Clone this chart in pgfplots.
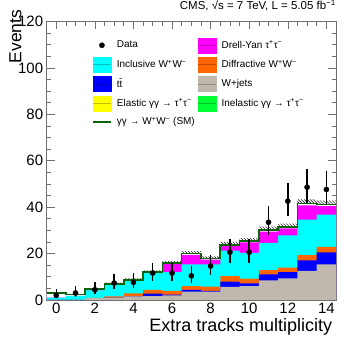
\documentclass[border=0pt]{standalone}
\usepackage{fontspec}
\setmainfont{Liberation Sans}
\usepackage{pgfplots}
\pgfplotsset{compat=1.18}
\usepackage{pgfplotstable}
\usetikzlibrary{patterns}

\definecolor{wjets}{HTML}{C1B8AD}
\definecolor{ttbar}{HTML}{0000FF}
\definecolor{diffww}{HTML}{FF6600}
\definecolor{inclww}{HTML}{00FFFF}
\definecolor{dytt}{HTML}{FF00FF}
\definecolor{eltt}{HTML}{FFFF00}
\definecolor{inelt}{HTML}{00FF33}
\definecolor{sigww}{HTML}{0B650B}
\definecolor{framec}{HTML}{707070}

% cumulative stack tops, one row per bin (left edge), last row closes bin 14
\pgfplotstableread{
x     g     b     o     c     m     t     h
-0.5  0     0     0     1.0   1.0   3.0   3.3
0.5   0     0     0     1.8   1.8   2.3   2.6
1.5   0.8   0.8   0.9   4.1   4.1   4.6   5.0
2.5   1.0   1.0   1.6   6.4   6.5   7.0   7.5
3.5   1.5   1.5   2.8   8.2   8.3   8.7   9.3
4.5   1.7   2.7   4.3   11.6  11.7  12.0  12.7
5.5   2.0   2.3   3.9   12.0  15.5  16.0  16.8
6.5   3.6   4.3   6.0   15.3  19.4  20.0  21.0
7.5   3.6   3.9   5.7   15.3  17.4  17.9  18.8
8.5   5.6   7.9   10.3  21.3  23.2  23.8  25.0
9.5   6.0   7.2   9.2   20.3  24.8  25.4  26.6
10.5  8.4   11.0  12.9  24.6  29.5  30.2  31.6
11.5  9.3   12.0  13.9  27.8  30.8  31.4  32.9
12.5  12.5  17.1  19.3  34.6  40.8  41.6  43.3
13.5  15.3  20.5  22.9  36.8  40.4  41.1  42.8
14.5  15.3  20.5  22.9  36.8  40.4  41.1  42.8
}\hist

\pgfplotstableread{
x   y     ep   em
0   2.0   2.6  1.3
1   3.0   2.9  1.6
2   4.4   3.2  1.9
3   7.3   3.8  2.4
4   7.6   3.9  2.5
5   11.6  4.5  3.3
6   11.6  4.5  3.3
7   10.4  4.3  3.1
8   14.6  4.9  3.8
9   20.6  5.6  4.5
10  20.6  5.6  4.5
11  33.5  6.8  5.7
12  42.6  7.6  6.5
13  48.6  8.0  6.9
14  47.6  7.9  6.8
}\data

\pgfplotsset{
  hbox/.style={legend image code/.code={
    \fill[#1] (0pt,-7.5pt) rectangle (18pt,7.5pt);
    \draw[#1!75!black, line width=0.4pt] (0pt,0pt) -- (18pt,0pt);}},
}
\newcommand{\pl}{\textsuperscript{+}}
\newcommand{\mi}{\textsuperscript{−}}

\begin{document}
\begin{tikzpicture}
\begin{axis}[
    name=ax,
    scale only axis, width=290pt, height=279pt,
    xmin=-0.5, xmax=14.5, ymin=0, ymax=120,
    xtick={0,2,...,14}, minor x tick num=3,
    ytick={0,20,...,120}, minor y tick num=3,
    tick align=inside, xtick pos=both, ytick pos=both,
    xticklabel pos=bottom, yticklabel pos=left,
    major tick length=8pt, minor tick length=4pt,
    axis line style={framec, line width=0.9pt},
    every tick/.style={framec, line width=0.6pt},
    tick label style={font=\fontsize{15}{15}\selectfont},
    /pgf/number format/assume math mode=true,
    xlabel={Extra tracks multiplicity},
    xlabel style={font=\fontsize{18}{18}\selectfont, at={(axis description cs:0.987,-0.066)}, anchor=north east, inner sep=0pt},
    ylabel={Events},
    ylabel style={font=\fontsize{17.5}{17.5}\selectfont, at={(axis description cs:-0.086,1.043)}, anchor=south east, inner sep=0pt},
    title={CMS, √s = 7 TeV, L = 5.05 fb\textsuperscript{−1}},
    title style={font=\fontsize{11.5}{12}\selectfont, at={(axis description cs:1,1)}, anchor=south east, inner sep=0pt, yshift=4pt},
    legend columns=2,
    legend cell align=left,
    legend style={at={(axis description cs:0.156,0.943)}, anchor=north west,
      draw=none, fill=none, inner sep=0pt, row sep=4pt,
      font=\fontsize{10}{10}\selectfont,
      /tikz/every odd column/.append style={column sep=3pt},
      /tikz/every even column/.append style={column sep=1.5pt}},
]
  % uncertainty band, then stacked contributions from the top down
  \addplot[const plot, draw=none, pattern=north west lines, pattern color=black, forget plot]
    table[x=x,y=h]{\hist} \closedcycle;
  \addplot[const plot, fill=white, draw=none, forget plot] table[x=x,y=t]{\hist} \closedcycle;
  \addplot[const plot, fill=dytt, draw=none, forget plot] table[x=x,y=m]{\hist} \closedcycle;
  \addplot[const plot, fill=inclww, draw=none, forget plot] table[x=x,y=c]{\hist} \closedcycle;
  \addplot[const plot, fill=diffww, draw=none, forget plot] table[x=x,y=o]{\hist} \closedcycle;
  \addplot[const plot, fill=ttbar, draw=none, forget plot] table[x=x,y=b]{\hist} \closedcycle;
  \addplot[const plot, fill=wjets, draw=none, forget plot] table[x=x,y=g]{\hist} \closedcycle;
  \addplot[const plot, draw=sigww, line width=1.6pt, forget plot] table[x=x,y=t]{\hist};

  \addplot[only marks, mark=*, mark size=2.6pt, black, forget plot,
    error bars/.cd, y dir=both, y explicit, error mark=none,
    error bar style={line width=1.5pt, black}]
    table[x=x, y=y, y error plus=ep, y error minus=em]{\data};

  \addlegendimage{legend image code/.code={\fill[black] (9pt,0pt) circle (2.6pt);}}
  \addlegendentry{Data}
  \addlegendimage{hbox=dytt}
  \addlegendentry{Drell-Yan τ\pl τ\mi}
  \addlegendimage{hbox=inclww}
  \addlegendentry{Inclusive W\pl W\mi}
  \addlegendimage{hbox=diffww}
  \addlegendentry{Diffractive W\pl W\mi}
  \addlegendimage{hbox=ttbar}
  \addlegendentry{t\={t}}
  \addlegendimage{hbox=wjets}
  \addlegendentry{W+jets}
  \addlegendimage{hbox=eltt}
  \addlegendentry{Elastic γγ → τ\pl τ\mi}
  \addlegendimage{hbox=inelt}
  \addlegendentry{Inelastic γγ → τ\pl τ\mi}
  \addlegendimage{legend image code/.code={\draw[sigww, line width=2pt] (0pt,0pt) -- (18pt,0pt);}}
  \addlegendentry{γγ → W\pl W\mi{} (SM)}
\end{axis}
% page margins of the reference around the frame
\path ([xshift=-46.7pt,yshift=-44.5pt]ax.south west) rectangle ([xshift=18pt,yshift=17.5pt]ax.north east);
\end{tikzpicture}
\end{document}
